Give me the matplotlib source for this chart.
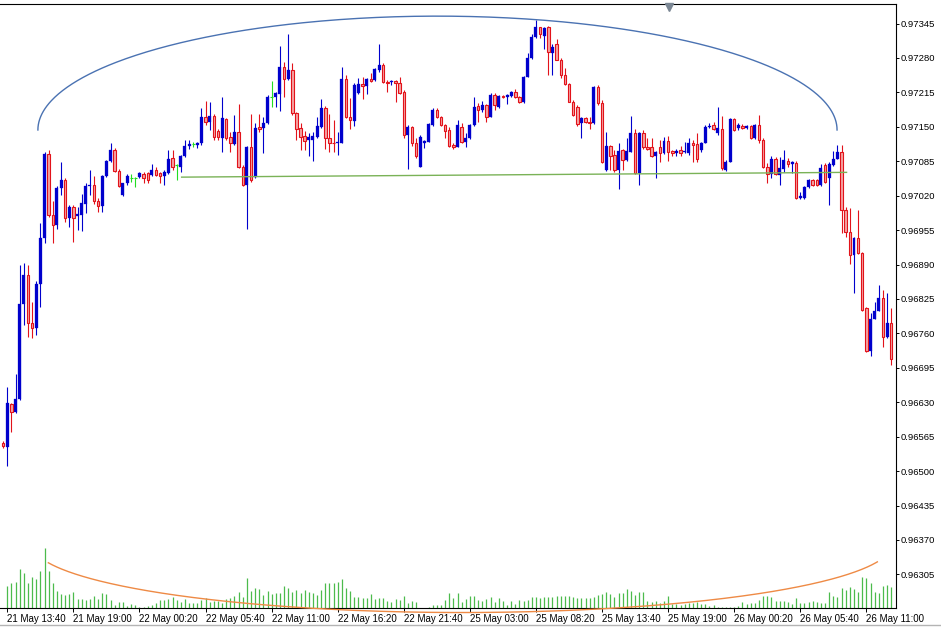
import numpy as np
import matplotlib
matplotlib.use("Agg")
import matplotlib.pyplot as plt
from matplotlib.lines import Line2D
import matplotlib.transforms as mtransforms

plt.rcParams['font.family'] = ['Liberation Sans', 'DejaVu Sans']

# ---------------- data (M20 bars) ----------------
opens = [
    0.96553, 0.96546, 0.96627, 0.96612, 0.96637, 0.96815, 0.96870, 0.96779, 0.96771, 0.96853,
    0.96941, 0.97098, 0.96983, 0.96965, 0.97034, 0.97050, 0.96977, 0.96999, 0.96982, 0.96983,
    0.97004, 0.97038, 0.97040, 0.97010, 0.97001, 0.97057, 0.97085, 0.97107, 0.97067, 0.97021,
    0.97043, 0.97053, 0.97053, 0.97055, 0.97061, 0.97063, 0.97059, 0.97068, 0.97062, 0.97058,
    0.97062, 0.97092, 0.97078, 0.97075, 0.97094, 0.97114, 0.97117, 0.97116, 0.97119, 0.97169,
    0.97160, 0.97170, 0.97143, 0.97128, 0.97164, 0.97130, 0.97117, 0.97141, 0.97075, 0.97040,
    0.97112, 0.97056, 0.97150, 0.97148, 0.97157, 0.97206, 0.97206, 0.97212, 0.97263, 0.97240,
    0.97257, 0.97176, 0.97147, 0.97133, 0.97125, 0.97126, 0.97130, 0.97150, 0.97186, 0.97128,
    0.97120, 0.97119, 0.97120, 0.97240, 0.97169, 0.97161, 0.97214, 0.97231, 0.97227, 0.97240,
    0.97238, 0.97257, 0.97267, 0.97235, 0.97235, 0.97237, 0.97233, 0.97216, 0.97134, 0.97149,
    0.97119, 0.97075, 0.97119, 0.97122, 0.97153, 0.97182, 0.97168, 0.97153, 0.97144, 0.97116,
    0.97112, 0.97150, 0.97121, 0.97128, 0.97153, 0.97189, 0.97182, 0.97191, 0.97169, 0.97210,
    0.97188, 0.97208, 0.97206, 0.97208, 0.97216, 0.97206, 0.97196, 0.97245, 0.97279, 0.97319,
    0.97338, 0.97321, 0.97338, 0.97290, 0.97306, 0.97277, 0.97248, 0.97231, 0.97197, 0.97188,
    0.97157, 0.97166, 0.97160, 0.97157, 0.97225, 0.97195, 0.97068, 0.97114, 0.97097, 0.97068,
    0.97106, 0.97087, 0.97103, 0.97138, 0.97062, 0.97138, 0.97111, 0.97111, 0.97095, 0.97111,
    0.97100, 0.97123, 0.97104, 0.97100, 0.97106, 0.97102, 0.97100, 0.97120, 0.97117, 0.97106,
    0.97120, 0.97149, 0.97153, 0.97138, 0.97145, 0.97068, 0.97084, 0.97164, 0.97147, 0.97151,
    0.97147, 0.97151, 0.97128, 0.97153, 0.97126, 0.97074, 0.97061, 0.97090, 0.97059, 0.97070,
    0.97086, 0.97080, 0.97082, 0.97015, 0.97015, 0.97036, 0.97050, 0.97050, 0.97040, 0.97078,
    0.97053, 0.97078, 0.97090, 0.97103, 0.96993, 0.96951, 0.96908, 0.96941, 0.96912, 0.96807,
    0.96727, 0.96788, 0.96803, 0.96826, 0.96753, 0.96780,
]
highs = [
    0.96557, 0.96658, 0.96629, 0.96683, 0.96889, 0.96892, 0.96889, 0.96820, 0.96859, 0.96969,
    0.97102, 0.97107, 0.97009, 0.97038, 0.97083, 0.97053, 0.97002, 0.97002, 0.96999, 0.97024,
    0.97044, 0.97068, 0.97058, 0.97016, 0.97059, 0.97087, 0.97119, 0.97110, 0.97070, 0.97044,
    0.97061, 0.97060, 0.97056, 0.97065, 0.97065, 0.97065, 0.97080, 0.97074, 0.97065, 0.97068,
    0.97107, 0.97106, 0.97080, 0.97097, 0.97125, 0.97125, 0.97122, 0.97121, 0.97185, 0.97199,
    0.97197, 0.97174, 0.97146, 0.97207, 0.97167, 0.97141, 0.97172, 0.97194, 0.97078, 0.97114,
    0.97175, 0.97157, 0.97175, 0.97168, 0.97210, 0.97237, 0.97216, 0.97302, 0.97272, 0.97326,
    0.97270, 0.97178, 0.97157, 0.97142, 0.97138, 0.97140, 0.97169, 0.97202, 0.97189, 0.97174,
    0.97163, 0.97141, 0.97263, 0.97248, 0.97204, 0.97233, 0.97243, 0.97245, 0.97242, 0.97252,
    0.97261, 0.97306, 0.97270, 0.97238, 0.97238, 0.97238, 0.97245, 0.97219, 0.97153, 0.97151,
    0.97129, 0.97134, 0.97125, 0.97157, 0.97185, 0.97185, 0.97170, 0.97155, 0.97150, 0.97119,
    0.97163, 0.97157, 0.97138, 0.97155, 0.97206, 0.97195, 0.97199, 0.97193, 0.97214, 0.97213,
    0.97210, 0.97210, 0.97212, 0.97218, 0.97221, 0.97208, 0.97246, 0.97290, 0.97325, 0.97352,
    0.97339, 0.97338, 0.97340, 0.97306, 0.97315, 0.97280, 0.97262, 0.97233, 0.97201, 0.97191,
    0.97168, 0.97168, 0.97168, 0.97227, 0.97229, 0.97201, 0.97141, 0.97116, 0.97106, 0.97119,
    0.97108, 0.97128, 0.97170, 0.97145, 0.97140, 0.97144, 0.97128, 0.97128, 0.97104, 0.97126,
    0.97131, 0.97133, 0.97106, 0.97109, 0.97114, 0.97122, 0.97128, 0.97125, 0.97139, 0.97121,
    0.97153, 0.97157, 0.97160, 0.97187, 0.97170, 0.97087, 0.97166, 0.97166, 0.97157, 0.97155,
    0.97153, 0.97153, 0.97155, 0.97172, 0.97129, 0.97081, 0.97094, 0.97093, 0.97093, 0.97106,
    0.97092, 0.97085, 0.97085, 0.97027, 0.97038, 0.97051, 0.97051, 0.97051, 0.97080, 0.97082,
    0.97084, 0.97104, 0.97116, 0.97116, 0.96999, 0.96997, 0.96942, 0.96993, 0.96914, 0.96810,
    0.96798, 0.96820, 0.96851, 0.96842, 0.96837, 0.96807,
]
lows = [
    0.96544, 0.96510, 0.96574, 0.96610, 0.96634, 0.96776, 0.96754, 0.96752, 0.96757, 0.96810,
    0.96931, 0.96980, 0.96931, 0.96958, 0.97021, 0.96970, 0.96960, 0.96933, 0.96955, 0.96953,
    0.96987, 0.97021, 0.97004, 0.96990, 0.96990, 0.97055, 0.97083, 0.97065, 0.97036, 0.97019,
    0.97040, 0.97046, 0.97036, 0.97053, 0.97044, 0.97044, 0.97057, 0.97057, 0.97044, 0.97040,
    0.97061, 0.97068, 0.97050, 0.97065, 0.97093, 0.97108, 0.97112, 0.97110, 0.97116, 0.97153,
    0.97144, 0.97125, 0.97125, 0.97103, 0.97125, 0.97103, 0.97116, 0.97072, 0.97038, 0.96958,
    0.97046, 0.97053, 0.97140, 0.97101, 0.97155, 0.97187, 0.97187, 0.97180, 0.97207, 0.97238,
    0.97172, 0.97125, 0.97106, 0.97106, 0.97095, 0.97086, 0.97129, 0.97148, 0.97109, 0.97103,
    0.97103, 0.97097, 0.97119, 0.97167, 0.97145, 0.97151, 0.97212, 0.97202, 0.97212, 0.97235,
    0.97236, 0.97253, 0.97233, 0.97216, 0.97229, 0.97196, 0.97212, 0.97128, 0.97070, 0.97114,
    0.97091, 0.97074, 0.97110, 0.97121, 0.97151, 0.97167, 0.97151, 0.97128, 0.97112, 0.97108,
    0.97111, 0.97119, 0.97112, 0.97127, 0.97151, 0.97160, 0.97178, 0.97160, 0.97168, 0.97182,
    0.97185, 0.97204, 0.97193, 0.97206, 0.97204, 0.97195, 0.97195, 0.97244, 0.97278, 0.97318,
    0.97317, 0.97296, 0.97248, 0.97248, 0.97276, 0.97242, 0.97229, 0.97196, 0.97170, 0.97151,
    0.97128, 0.97157, 0.97145, 0.97155, 0.97191, 0.97082, 0.97067, 0.97068, 0.97065, 0.97032,
    0.97068, 0.97085, 0.97102, 0.97061, 0.97040, 0.97109, 0.97106, 0.97093, 0.97053, 0.97084,
    0.97098, 0.97086, 0.97094, 0.97095, 0.97094, 0.97100, 0.97097, 0.97084, 0.97084, 0.97103,
    0.97119, 0.97147, 0.97144, 0.97134, 0.97068, 0.97066, 0.97083, 0.97143, 0.97144, 0.97146,
    0.97146, 0.97127, 0.97127, 0.97119, 0.97072, 0.97043, 0.97053, 0.97059, 0.97040, 0.97065,
    0.97075, 0.97062, 0.97014, 0.97014, 0.97014, 0.97034, 0.97038, 0.97038, 0.97038, 0.97044,
    0.97002, 0.97076, 0.97089, 0.96949, 0.96942, 0.96891, 0.96836, 0.96910, 0.96802, 0.96725,
    0.96717, 0.96787, 0.96802, 0.96735, 0.96751, 0.96700,
]
closes = [
    0.96547, 0.96629, 0.96612, 0.96637, 0.96815, 0.96870, 0.96779, 0.96771, 0.96854, 0.96941,
    0.97099, 0.96983, 0.96965, 0.97034, 0.97050, 0.96977, 0.96999, 0.96977, 0.96985, 0.97006,
    0.97038, 0.97041, 0.97009, 0.97001, 0.97057, 0.97086, 0.97107, 0.97067, 0.97039, 0.97043,
    0.97058, 0.97053, 0.97053, 0.97063, 0.97053, 0.97050, 0.97068, 0.97059, 0.97058, 0.97064,
    0.97089, 0.97075, 0.97078, 0.97094, 0.97114, 0.97117, 0.97117, 0.97119, 0.97169, 0.97160,
    0.97171, 0.97130, 0.97130, 0.97166, 0.97128, 0.97119, 0.97141, 0.97075, 0.97040, 0.97112,
    0.97050, 0.97147, 0.97146, 0.97157, 0.97207, 0.97206, 0.97213, 0.97263, 0.97240, 0.97257,
    0.97176, 0.97146, 0.97131, 0.97124, 0.97130, 0.97133, 0.97151, 0.97186, 0.97128, 0.97119,
    0.97119, 0.97122, 0.97240, 0.97169, 0.97163, 0.97229, 0.97231, 0.97227, 0.97240, 0.97237,
    0.97259, 0.97267, 0.97235, 0.97233, 0.97237, 0.97233, 0.97214, 0.97134, 0.97150, 0.97119,
    0.97094, 0.97131, 0.97124, 0.97155, 0.97182, 0.97169, 0.97153, 0.97143, 0.97114, 0.97112,
    0.97153, 0.97122, 0.97129, 0.97153, 0.97188, 0.97182, 0.97191, 0.97169, 0.97210, 0.97191,
    0.97208, 0.97206, 0.97210, 0.97216, 0.97206, 0.97196, 0.97245, 0.97279, 0.97319, 0.97338,
    0.97325, 0.97336, 0.97292, 0.97301, 0.97277, 0.97248, 0.97231, 0.97197, 0.97172, 0.97155,
    0.97166, 0.97160, 0.97157, 0.97226, 0.97195, 0.97084, 0.97114, 0.97095, 0.97068, 0.97104,
    0.97087, 0.97104, 0.97138, 0.97062, 0.97138, 0.97111, 0.97109, 0.97095, 0.97102, 0.97101,
    0.97123, 0.97103, 0.97100, 0.97105, 0.97101, 0.97104, 0.97120, 0.97116, 0.97090, 0.97120,
    0.97150, 0.97151, 0.97145, 0.97147, 0.97073, 0.97084, 0.97164, 0.97144, 0.97153, 0.97147,
    0.97151, 0.97128, 0.97153, 0.97126, 0.97074, 0.97061, 0.97090, 0.97061, 0.97072, 0.97087,
    0.97080, 0.97083, 0.97015, 0.97019, 0.97036, 0.97050, 0.97040, 0.97040, 0.97072, 0.97046,
    0.97080, 0.97090, 0.97103, 0.96993, 0.96951, 0.96908, 0.96941, 0.96912, 0.96804, 0.96727,
    0.96788, 0.96803, 0.96826, 0.96753, 0.96780, 0.96711,
]
volumes = [
    0, 227, 250, 260, 393, 350, 257, 310, 290, 373,
    600, 373, 257, 177, 143, 133, 143, 167, 93, 90,
    83, 93, 123, 93, 150, 143, 83, 33, 60, 60,
    23, 40, 33, 10, 10, 23, 33, 57, 83, 83,
    93, 110, 83, 67, 90, 50, 50, 57, 83, 107,
    67, 73, 73, 57, 93, 107, 123, 167, 117, 300,
    177, 207, 190, 133, 177, 143, 150, 150, 227, 200,
    167, 183, 157, 183, 160, 150, 133, 183, 257, 250,
    257, 267, 297, 200, 173, 117, 110, 100, 100, 140,
    93, 100, 100, 73, 67, 93, 83, 123, 50, 73,
    60, 0, 0, 10, 30, 30, 30, 83, 150, 100,
    157, 67, 90, 123, 123, 83, 73, 93, 117, 67,
    100, 73, 30, 73, 43, 83, 73, 83, 117, 110,
    103, 117, 110, 117, 123, 123, 123, 123, 110, 103,
    103, 103, 103, 110, 133, 143, 160, 140, 110, 150,
    157, 190, 173, 133, 160, 160, 73, 60, 73, 50,
    73, 123, 43, 40, 33, 40, 57, 50, 67, 43,
    40, 27, 33, 17, 10, 10, 10, 17, 27, 67,
    40, 50, 57, 83, 123, 123, 117, 77, 77, 77,
    67, 43, 100, 50, 50, 67, 73, 60, 50, 50,
    167, 123, 117, 207, 183, 217, 193, 160, 310, 300,
    250, 167, 150, 223, 233, 217,
]

x_tick_bars = [1, 17, 33, 49, 65, 81, 97, 113, 129, 145, 161, 177, 193, 209]
x_tick_labels = ["21 May 13:40", "21 May 19:00", "22 May 00:20", "22 May 05:40",
                 "22 May 11:00", "22 May 16:20", "22 May 21:40", "25 May 03:00",
                 "25 May 08:20", "25 May 13:40", "25 May 19:00", "26 May 00:20",
                 "26 May 05:40", "26 May 11:00"]
price_ticks = [0.96305, 0.96370, 0.96435, 0.96500, 0.96565, 0.96630, 0.96695, 0.96760,
               0.96825, 0.96890, 0.96955, 0.97020, 0.97085, 0.97150, 0.97215, 0.97280,
               0.97345]

# drawn objects (anchors in bar index / price)
ARC_TOP = dict(cx=105.15, cy=0.97144, a=96.75, b=0.00215)          # blue ellipse arc
LEVEL_LINE = ([43.2, 204.2], [0.97055, 0.97064])                     # green trend line
ARC_VOL = dict(cx=111.1, cy=0.96362, a=104.1, b=0.001291, t1=195.8, t2=345.0)  # orange arc
SHIFT_BAR = 161.2

# ---------------- styling ----------------
BULL = '#0000cc'
BEAR_EDGE = '#e2121a'
BEAR_FILL = '#f5a3a3'
DOJI = '#22dd22'
VOL = '#4cbb4c'

o = np.array(opens); h = np.array(highs); l = np.array(lows); c = np.array(closes)
v = np.array(volumes)
idx = np.arange(len(o))
diff = np.round(c - o, 6)
bull = diff > 0
bear = diff < 0
doji = diff == 0

fig = plt.figure(figsize=(9.41, 6.38), dpi=100)
fig.patch.set_facecolor('white')
ax = fig.add_axes([0, 29.7 / 638, 895.5 / 941, 604.3 / 638])
axv = ax.twinx()
ax.set_zorder(axv.get_zorder() + 1)
ax.patch.set_visible(False)

# volume
axv.vlines(idx, 0, v, color=VOL, lw=0.9)
axv.set_ylim(0, 6043)
axv.set_yticks([])
axv.tick_params(right=False, labelright=False)
for s in axv.spines.values():
    s.set_visible(False)

# wicks
ax.vlines(idx[bull], l[bull], h[bull], color=BULL, lw=0.8, zorder=2)
ax.vlines(idx[bear], l[bear], h[bear], color=BEAR_EDGE, lw=0.8, zorder=2)
ax.vlines(idx[doji], l[doji], h[doji], color=DOJI, lw=0.8, zorder=2)
# bodies
ax.bar(idx[bull], (c - o)[bull], bottom=o[bull], width=0.72, color=BULL,
       edgecolor=BULL, lw=0.2, zorder=3)
ax.bar(idx[bear], (o - c)[bear], bottom=c[bear], width=0.6, facecolor=BEAR_FILL,
       edgecolor=BEAR_EDGE, lw=0.8, zorder=3)
ax.hlines(o[doji], idx[doji] - 0.36, idx[doji] + 0.36, color=DOJI, lw=0.8, zorder=3)

# objects
t = np.linspace(0, np.pi, 400)
ax.plot(ARC_TOP['cx'] + ARC_TOP['a'] * np.cos(t), ARC_TOP['cy'] + ARC_TOP['b'] * np.sin(t),
        color='#4a72b2', lw=1.0, zorder=4)
ax.plot(LEVEL_LINE[0], LEVEL_LINE[1], color='#7ab257', lw=1.0, zorder=4)
t2 = np.deg2rad(np.linspace(ARC_VOL['t1'], ARC_VOL['t2'], 400))
ax.plot(ARC_VOL['cx'] + ARC_VOL['a'] * np.cos(t2), ARC_VOL['cy'] + ARC_VOL['b'] * np.sin(t2),
        color='#ee8a45', lw=1.0, zorder=4, clip_on=False)
trans = mtransforms.blended_transform_factory(ax.transData, ax.transAxes)
ax.plot([SHIFT_BAR], [0.9945], marker='v', ms=6, color='#7b8794', mec='#7b8794',
        transform=trans, clip_on=False, zorder=5)

# axes
ax.set_xlim(-0.775, 216.05)
ax.set_ylim(0.962409, 0.973819)
ax.yaxis.tick_right()
ax.set_yticks(price_ticks)
ax.set_yticklabels([f"{p:.5f}" for p in price_ticks])
ax.tick_params(axis='y', which='both', direction='out', length=2.3, width=0.7, pad=1.6,
               labelsize=6.8, colors='black', left=False, labelleft=False)
ax.set_xticks(x_tick_bars)
ax.set_xticklabels(x_tick_labels, ha='left')
ax.tick_params(axis='x', direction='out', length=3.2, width=0.7, pad=0.6, labelsize=7,
               colors='black')
ax.spines['left'].set_visible(False)
for s in ('top', 'right', 'bottom'):
    ax.spines[s].set_linewidth(0.8)
    ax.spines[s].set_color('black')

fig.add_artist(Line2D([0, 1], [1 - 624.5 / 638] * 2, color='#b4b4b4', lw=1.0))

fig.savefig('out.png', dpi=100, facecolor='white')
